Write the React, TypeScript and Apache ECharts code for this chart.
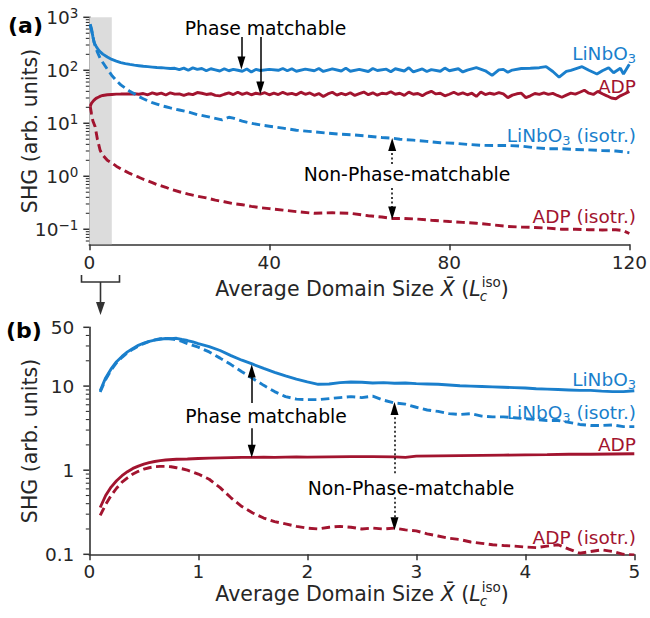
import React, { useEffect, useRef } from 'react';
import * as echarts from 'echarts';

const BLUE = '#1a7fcc';
const RED = '#a2142f';
const AXIS = '#333333';
const TEXT = '#262626';
const FONT = '"DejaVu Sans", sans-serif';

// ---------- Panel (a): x = average domain size, y = SHG ----------
const topLiNbO3: [number, number][] = [
  [0.2, 740], [0.5, 600], [0.8, 430], [1.1, 330], [1.5, 285], [2, 245], [2.5, 220], [3, 202], [4, 178], [5, 160],
  [6, 149], [7, 140], [8, 134], [9, 129], [10, 125], [11, 122], [12, 119], [13, 117], [14, 115], [15, 113],
  [16, 112], [17, 110], [18, 108], [19, 109], [20, 103], [21, 110], [22, 100], [23, 111], [24, 104], [25, 108],
  [26, 98], [27, 107], [28, 102], [29, 97], [30, 107], [31, 98], [32, 104], [33, 100], [34, 96], [35, 106],
  [36, 93], [37, 104], [38, 99], [40, 104], [42, 100], [43, 108], [44, 98], [45, 107], [46, 96], [48, 105],
  [50, 98], [51, 108], [52, 95], [54, 106], [56, 97], [57, 110], [58, 96], [60, 104], [62, 95], [63, 108],
  [64, 99], [66, 105], [67, 94], [68, 107], [70, 97], [71, 112], [72, 93], [74, 106], [75, 95], [76, 103],
  [78, 96], [79, 110], [80, 98], [82, 107], [83, 93], [84, 101], [86, 112], [88, 98], [89.5, 80], [91, 102],
  [92, 104], [93, 92], [94, 101], [96, 108], [98, 109], [100, 112], [101.5, 117], [103, 95], [104.4, 74], [106, 95],
  [107, 100], [108.5, 110], [109.5, 117], [111, 100], [112.8, 85], [114, 98], [115.4, 112], [116.5, 90], [118, 109], [118.7, 85],
  [120, 130],
];
const topADP: [number, number][] = [
  [0.2, 21], [0.5, 24], [1, 27], [1.5, 29.5], [2, 31], [2.5, 32.5], [3, 33.5], [4, 34.5], [5, 35], [6, 35.5],
  [7, 35.6], [8, 35.8], [10, 36], [11, 35.3], [12, 36.4], [13, 34.5], [14, 37.4], [15, 35.3], [16, 37.1], [17, 34.2],
  [18, 37.6], [19, 35.5], [20, 35.8], [21, 33.7], [22, 36], [23, 34.8], [24, 38], [25, 36.9], [26, 35], [27, 36.1],
  [28, 33.7], [29, 32.9], [30, 35.3], [31, 37.4], [32, 34.8], [33, 38.5], [34, 35.2], [35, 37.6], [36, 34.5], [37, 36.9],
  [38, 35.5], [39, 37.7], [40, 34.5], [41, 37.1], [42, 34.8], [43, 38.4], [44, 35.3], [45, 36.6], [46, 34.4], [47, 38.7],
  [48, 35.2], [49, 37.4], [50, 33.7], [51, 36.4], [52, 32.1], [53, 35.8], [54, 38.5], [55, 34], [56, 36.6], [57, 34.5],
  [58, 37.7], [59, 33.6], [60, 36.1], [61, 38.8], [62, 34.7], [63, 37.6], [64, 33.9], [65, 36.9], [66, 35.8], [67, 39.3],
  [68, 35.3], [69, 36.8], [70, 33.7], [71, 38.7], [72, 35.3], [73, 36.4], [74, 33.2], [75, 37.2], [76, 40.1], [77, 35.8],
  [78, 36.9], [79, 32.9], [80, 35.3], [81, 38.5], [82, 35], [83, 37.4], [84, 34.5], [85, 36.9], [86, 32.1], [87, 39],
  [88, 34.8], [89, 36.9], [90, 35.3], [91, 38], [92, 35.8], [93, 30.5], [94, 34], [95, 36], [96, 37], [97, 30.5],
  [98, 33], [99, 36.5], [100, 35.2], [101, 37.4], [102, 35], [103, 36.7], [104, 33.5], [105, 31], [106, 34], [107, 37],
  [108, 35.6], [109, 38.5], [110, 42], [111, 37], [112, 35], [113, 40], [114, 36], [115, 33], [116, 30], [117, 29],
  [118, 33], [119, 36], [120, 40],
];
const topLiNbO3Iso: [number, number][] = [
  [0.2, 720], [0.6, 520], [1, 360], [1.3, 290], [1.8, 220], [2.4, 170], [3, 140], [4, 105], [5, 80], [6, 64],
  [7, 53], [8, 46], [9, 40], [10, 36], [11, 32], [12, 29], [13, 26.5], [14, 24.5], [15, 23], [16, 21.5],
  [17, 20.5], [18, 19.5], [19, 18.6], [20, 17.8], [22, 16.3], [24, 14.6], [26, 13.5], [28, 12.4], [29.5, 11.6], [31, 13],
  [32, 12.5], [34, 11], [36, 10], [38, 9.3], [40, 8.8], [43, 8.1], [46, 7.4], [50, 6.9], [53, 6.5], [56, 6.2],
  [59, 6.0], [62, 5.7], [65, 5.4], [67.3, 5.25], [69, 5.0], [72, 4.8], [75, 4.55], [78, 4.3], [81, 4.2], [84, 4.0],
  [87, 3.85], [90, 3.8], [93, 3.8], [96, 3.7], [99, 3.45], [102, 3.3], [105, 3.3], [108, 3.2], [111, 3.15], [114, 3.05],
  [117, 3.0], [120, 2.8],
];
const topADPIso: [number, number][] = [
  [0.2, 21], [0.5, 15], [0.8, 11], [1.3, 8.6], [1.8, 5], [2.4, 3.1], [3, 2.5], [4, 2.0], [5, 1.78], [6, 1.55],
  [7, 1.38], [8, 1.25], [9, 1.13], [10, 1.04], [11, 0.96], [12, 0.88], [13, 0.82], [14, 0.76], [15, 0.7], [16, 0.66],
  [17, 0.62], [18, 0.57], [20, 0.51], [22, 0.46], [24, 0.42], [26, 0.39], [28, 0.355], [30, 0.33], [32, 0.305], [34, 0.29],
  [36, 0.27], [38, 0.255], [40, 0.245], [43, 0.23], [46, 0.215], [50, 0.2], [54, 0.205], [58, 0.2], [62, 0.18], [65, 0.17],
  [67.3, 0.16], [70, 0.16], [73, 0.155], [76, 0.148], [80, 0.14], [83, 0.135], [86, 0.13], [90, 0.12], [93, 0.113], [96, 0.11],
  [99, 0.108], [102, 0.105], [105, 0.1], [108, 0.1], [111, 0.098], [114, 0.097], [117, 0.098], [118.5, 0.095], [120, 0.083],
];

// ---------- Panel (b) ----------
const botLiNbO3: [number, number][] = [
  [0.1, 8.8], [0.15, 12.5], [0.2, 16], [0.25, 19.5], [0.3, 22.5], [0.35, 25.5], [0.4, 28], [0.45, 30.5], [0.5, 32.5], [0.55, 34],
  [0.6, 35.2], [0.65, 36], [0.7, 36.8], [0.75, 36.5], [0.8, 37], [0.85, 35.8], [0.9, 34.8], [0.95, 33.5], [1.0, 32], [1.1, 29.5],
  [1.2, 26.5], [1.3, 23], [1.4, 20.3], [1.5, 18.2], [1.6, 16.2], [1.7, 14.6], [1.8, 13.2], [1.9, 12.1], [2.0, 11.2], [2.1, 10.5],
  [2.2, 10.6], [2.3, 11.0], [2.4, 11.2], [2.5, 11.1], [2.6, 10.9], [2.7, 11.0], [2.8, 10.8], [2.9, 10.9], [3.0, 10.7], [3.1, 10.6],
  [3.2, 10.5], [3.3, 10.3], [3.4, 10.1], [3.5, 10.0], [3.6, 9.9], [3.7, 9.8], [3.8, 9.7], [3.9, 9.6], [4.0, 9.5], [4.1, 9.3],
  [4.2, 9.2], [4.3, 9.1], [4.4, 9.0], [4.5, 8.9], [4.6, 8.9], [4.7, 8.7], [4.8, 8.6], [4.9, 8.6], [5.0, 8.8],
];
const botLiNbO3Iso: [number, number][] = [
  [0.1, 8.5], [0.15, 12], [0.2, 15.5], [0.25, 19], [0.3, 22], [0.35, 25], [0.4, 27.5], [0.45, 30], [0.5, 32], [0.55, 34],
  [0.6, 35.5], [0.65, 36.5], [0.7, 37], [0.75, 36.5], [0.8, 35.5], [0.85, 34], [0.9, 32], [0.95, 30.5], [1.0, 29], [1.1, 25.5],
  [1.2, 21.5], [1.3, 18], [1.4, 14.8], [1.5, 12.3], [1.6, 10.2], [1.7, 8.6], [1.8, 7.5], [1.9, 7.0], [2.0, 6.9], [2.1, 6.9],
  [2.2, 7.1], [2.3, 7.3], [2.4, 7.5], [2.5, 7.3], [2.6, 7.6], [2.7, 6.8], [2.8, 6.3], [2.9, 6.1], [3.0, 5.6], [3.1, 5.2],
  [3.2, 5.0], [3.3, 4.7], [3.4, 4.6], [3.5, 4.7], [3.6, 4.4], [3.7, 4.3], [3.8, 4.3], [3.9, 4.2], [4.0, 4.1], [4.1, 4.0],
  [4.2, 3.9], [4.3, 3.9], [4.4, 3.7], [4.5, 3.5], [4.6, 3.4], [4.7, 3.4], [4.8, 3.45], [4.9, 3.3], [5.0, 3.3],
];
const botADP: [number, number][] = [
  [0.1, 0.36], [0.15, 0.5], [0.2, 0.63], [0.25, 0.75], [0.3, 0.86], [0.35, 0.96], [0.4, 1.05], [0.45, 1.12], [0.5, 1.18], [0.55, 1.23],
  [0.6, 1.27], [0.65, 1.3], [0.7, 1.32], [0.8, 1.35], [0.9, 1.36], [1.0, 1.38], [1.1, 1.39], [1.2, 1.4], [1.3, 1.41], [1.4, 1.42],
  [1.5, 1.42], [1.6, 1.43], [1.7, 1.42], [1.8, 1.43], [1.9, 1.44], [2.0, 1.43], [2.2, 1.44], [2.4, 1.45], [2.6, 1.45], [2.8, 1.44],
  [2.9, 1.42], [3.0, 1.47], [3.2, 1.48], [3.4, 1.49], [3.6, 1.5], [3.8, 1.51], [4.0, 1.52], [4.2, 1.53], [4.4, 1.55], [4.6, 1.55],
  [4.8, 1.56], [5.0, 1.57],
];
const botADPIso: [number, number][] = [
  [0.1, 0.29], [0.15, 0.39], [0.2, 0.5], [0.25, 0.61], [0.3, 0.72], [0.35, 0.81], [0.4, 0.9], [0.45, 0.97], [0.5, 1.03], [0.55, 1.07],
  [0.6, 1.1], [0.65, 1.11], [0.7, 1.11], [0.75, 1.1], [0.8, 1.07], [0.85, 1.04], [0.9, 1.0], [0.95, 0.95], [1.0, 0.9], [1.1, 0.78],
  [1.2, 0.62], [1.3, 0.47], [1.4, 0.37], [1.5, 0.31], [1.6, 0.27], [1.7, 0.245], [1.8, 0.23], [1.9, 0.215], [2.0, 0.205], [2.1, 0.2],
  [2.2, 0.21], [2.3, 0.215], [2.4, 0.21], [2.5, 0.2], [2.6, 0.205], [2.7, 0.2], [2.8, 0.205], [2.9, 0.195], [3.0, 0.19], [3.1, 0.175],
  [3.2, 0.165], [3.3, 0.155], [3.4, 0.15], [3.5, 0.14], [3.6, 0.135], [3.7, 0.13], [3.8, 0.127], [3.9, 0.125], [4.0, 0.122], [4.1, 0.12],
  [4.2, 0.125], [4.3, 0.13], [4.4, 0.115], [4.5, 0.103], [4.6, 0.108], [4.7, 0.113], [4.8, 0.108], [4.9, 0.1], [5.0, 0.098],
];

// axes
const topXRange = [0, 120];
const topXInterval = 40;
const topYRange = [0.052, 1000];
const topYMajor = [0.1, 1, 10, 100, 1000];
const topYMinor = [0.06, 0.07, 0.08, 0.09, 0.2, 0.3, 0.4, 0.5, 0.6, 0.7, 0.8, 0.9, 2, 3, 4, 5, 6, 7, 8, 9,
  20, 30, 40, 50, 60, 70, 80, 90, 200, 300, 400, 500, 600, 700, 800, 900];
const shadeRange = [0, 5];

const botXRange = [0, 5];
const botXInterval = 1;
const botYRange = [0.1, 50];
const botYMajor = [0.1, 1, 10, 50];
const botYMinor = [0.2, 0.3, 0.4, 0.5, 0.6, 0.7, 0.8, 0.9, 2, 3, 4, 5, 6, 7, 8, 9, 20, 30, 40];

// annotation arrows (x, from, to) in data units
const topSolidArrows = [[33.8, 425, 137], [38, 425, 46.4]];
const topDottedArrows = [[67.3, 1.71, 3.98], [67.3, 0.6, 0.203]];
const botSolidArrows = [[1.49, 6.28, 15.1], [1.49, 3.16, 1.68]];
const botDottedArrows = [[2.8, 0.92, 5.4], [2.8, 0.477, 0.231]];

const LW = 2.9;
const DASH = [8.5, 4.5];

function arrowData(solid: number[][], dotted: number[][]) {
  const mk = (a: number[], type: any) => {
    const ls = { color: '#000', width: 1.5, type };
    return [
      { coord: [a[0], a[1]], lineStyle: ls, itemStyle: { color: '#000' } },
      { coord: [a[0], a[2]], lineStyle: ls, itemStyle: { color: '#000' } },
    ];
  };
  return [...solid.map((a) => mk(a, 'solid')), ...dotted.map((a) => mk(a, [2, 2.5]))];
}

function tickSeries(xi: number, xMin: number, majors: number[], minors: number[]) {
  return {
    type: 'custom',
    xAxisIndex: xi,
    yAxisIndex: xi,
    clip: false,
    silent: true,
    z: 6,
    encode: { x: 0, y: 1 },
    data: [...majors.map((v) => [xMin, v, 6, 1.5]), ...minors.map((v) => [xMin, v, 3.5, 1.1])],
    renderItem: (_p: any, api: any) => {
      const p = api.coord([api.value(0), api.value(1)]);
      const len = api.value(2);
      return {
        type: 'line',
        shape: { x1: p[0] - len, y1: p[1], x2: p[0], y2: p[1] },
        style: { stroke: AXIS, lineWidth: api.value(3) },
      };
    },
  };
}

function lineSeries(idx: number, data: [number, number][], color: string, dashed: boolean, extra: any = {}) {
  return {
    type: 'line',
    xAxisIndex: idx,
    yAxisIndex: idx,
    data,
    showSymbol: false,
    symbol: 'none',
    z: 3,
    lineStyle: { color, width: LW, type: dashed ? DASH : 'solid', cap: 'butt' },
    ...extra,
  };
}

let measureCtx: CanvasRenderingContext2D | null = null;
function measure(text: string, size: number, italic = false) {
  if (!measureCtx) measureCtx = document.createElement('canvas').getContext('2d');
  measureCtx!.font = `${italic ? 'italic ' : ''}${size}px "DejaVu Sans"`;
  return measureCtx!.measureText(text).width;
}

function xTitle(cx: number, cy: number) {
  const S = 20.5;
  const s = 13.5;
  const parts = [
    { t: 'Average Domain Size ', it: false },
    { t: 'X\u0304', it: true },
    { t: ' (', it: false },
    { t: 'L', it: true },
  ];
  const widths = parts.map((p) => measure(p.t, S, p.it));
  const wIso = measure('iso', s);
  const wC = measure('c', s, true);
  const wStack = Math.max(wIso, wC) + 1;
  const wClose = measure(')', S);
  const total = widths.reduce((a, b) => a + b, 0) + wStack + wClose;
  let x = cx - total / 2;
  const els: any[] = [];
  parts.forEach((p, i) => {
    els.push({
      type: 'text', x, y: cy, silent: true,
      style: { text: p.t, font: `${p.it ? 'italic ' : ''}${S}px ${FONT}`, fill: TEXT, align: 'left', verticalAlign: 'middle' },
    });
    x += widths[i];
  });
  els.push({ type: 'text', x: x + 1, y: cy - 7, silent: true,
    style: { text: 'iso', font: `${s}px ${FONT}`, fill: TEXT, align: 'left', verticalAlign: 'middle' } });
  els.push({ type: 'text', x: x - 1, y: cy + 7, silent: true,
    style: { text: 'c', font: `italic ${s}px ${FONT}`, fill: TEXT, align: 'left', verticalAlign: 'middle' } });
  x += wStack;
  els.push({ type: 'text', x, y: cy, silent: true,
    style: { text: ')', font: `${S}px ${FONT}`, fill: TEXT, align: 'left', verticalAlign: 'middle' } });
  return els;
}

function plainText(text: string, x: number, y: number, opts: any = {}) {
  return {
    type: 'text', x, y, silent: true,
    style: { text, font: `${opts.weight || 'normal'} ${opts.size || 18.8}px ${FONT}`, fill: opts.color || '#000',
      align: opts.align || 'center', verticalAlign: 'middle' },
  };
}

function seriesLabel(text: string, x: number, y: number, color: string) {
  return {
    type: 'text', x, y, silent: true,
    style: {
      text, fill: color, align: 'right', verticalAlign: 'middle',
      fontSize: 18.5, fontFamily: FONT, lineHeight: 24,
      rich: { sub: { fontSize: 13, fontFamily: FONT, lineHeight: 12, verticalAlign: 'bottom', fill: color, color } },
    },
  };
}

function yTitle(x: number, y: number) {
  return {
    type: 'text', x, y, rotation: Math.PI / 2, silent: true,
    style: { text: 'SHG (arb. units)', font: `20.5px ${FONT}`, fill: TEXT, align: 'center', verticalAlign: 'middle' },
  };
}

const axisLineStyle = { color: AXIS, width: 1.6 };

function buildOption() {
  const supExp = (v: number) => {
    const e = Math.round(Math.log10(v));
    return `{b|10}{s|${e < 0 ? '\u2212' + Math.abs(e) : e}}`;
  };
  return {
    animation: false,
    grid: [
      { left: 89.3, top: 17.3, width: 545, height: 227 },
      { left: 89.3, top: 327.3, width: 545, height: 227 },
    ],
    xAxis: [
      {
        type: 'value', gridIndex: 0, min: topXRange[0], max: topXRange[1], interval: topXInterval,
        axisLine: { onZero: false, lineStyle: axisLineStyle },
        axisTick: { length: 6, lineStyle: { color: AXIS, width: 1.5 } },
        axisLabel: { fontSize: 18.5, fontFamily: FONT, color: TEXT, margin: 9 },
        splitLine: { show: false },
      },
      {
        type: 'value', gridIndex: 1, min: botXRange[0], max: botXRange[1], interval: botXInterval,
        axisLine: { onZero: false, lineStyle: axisLineStyle },
        axisTick: { length: 6, lineStyle: { color: AXIS, width: 1.5 } },
        axisLabel: { fontSize: 18.5, fontFamily: FONT, color: TEXT, margin: 8 },
        splitLine: { show: false },
      },
    ],
    yAxis: [
      {
        type: 'log', logBase: 10, gridIndex: 0, min: topYRange[0], max: topYRange[1],
        axisLine: { show: true, lineStyle: axisLineStyle },
        axisTick: { show: false },
        splitLine: { show: false },
        axisLabel: {
          showMinLabel: false, margin: 11, color: TEXT, formatter: supExp,
          rich: {
            b: { fontSize: 18.5, fontFamily: FONT, color: TEXT, lineHeight: 22 },
            s: { fontSize: 13.5, fontFamily: FONT, color: TEXT, lineHeight: 14, verticalAlign: 'top' },
          },
        },
      },
      {
        type: 'log', logBase: 10, gridIndex: 1, min: botYRange[0], max: botYRange[1],
        axisLine: { show: true, lineStyle: axisLineStyle },
        axisTick: { show: false },
        splitLine: { show: false },
        axisLabel: {
          margin: 15, fontSize: 18.5, fontFamily: FONT, color: TEXT,
          formatter: (v: number) => (v >= 1 ? String(Math.round(v)) : String(Number(v.toPrecision(2)))),
        },
      },
    ],
    series: [
      lineSeries(0, topLiNbO3, BLUE, false, {
        markArea: {
          silent: true, itemStyle: { color: '#dcdcdc' },
          data: [[{ xAxis: shadeRange[0] }, { xAxis: shadeRange[1] }]],
        },
        markLine: {
          silent: true, symbol: ['none', 'triangle'], symbolSize: [8, 13], label: { show: false },
          data: arrowData(topSolidArrows, topDottedArrows),
        },
      }),
      lineSeries(0, topADP, RED, false),
      lineSeries(0, topLiNbO3Iso, BLUE, true),
      lineSeries(0, topADPIso, RED, true),
      lineSeries(1, botLiNbO3, BLUE, false, {
        markLine: {
          silent: true, symbol: ['none', 'triangle'], symbolSize: [8, 13], label: { show: false },
          data: arrowData(botSolidArrows, botDottedArrows),
        },
      }),
      lineSeries(1, botADP, RED, false),
      lineSeries(1, botLiNbO3Iso, BLUE, true),
      lineSeries(1, botADPIso, RED, true),
      tickSeries(0, topXRange[0], topYMajor, topYMinor),
      tickSeries(1, botXRange[0], botYMajor, botYMinor),
    ],
    graphic: [
      plainText('(a)', 8, 25, { weight: 'bold', size: 22, align: 'left' }),
      plainText('(b)', 6, 330, { weight: 'bold', size: 22, align: 'left' }),
      yTitle(30, 131),
      yTitle(30, 441),
      ...xTitle(362, 289),
      ...xTitle(362, 594),
      plainText('Phase matchable', 265.5, 28),
      plainText('Non-Phase-matchable', 407, 174),
      plainText('Phase matchable', 266, 416),
      plainText('Non-Phase-matchable', 411, 488),
      seriesLabel('LiNbO{sub|3}', 636, 53, BLUE),
      seriesLabel('ADP', 636, 86, RED),
      seriesLabel('LiNbO{sub|3} (isotr.)', 636, 135, BLUE),
      seriesLabel('ADP (isotr.)', 636, 216, RED),
      seriesLabel('LiNbO{sub|3}', 636, 379, BLUE),
      seriesLabel('LiNbO{sub|3} (isotr.)', 636, 412, BLUE),
      seriesLabel('ADP', 636, 444, RED),
      seriesLabel('ADP (isotr.)', 636, 537, RED),
      {
        type: 'polyline', silent: true,
        shape: { points: [[81.5, 275], [81.5, 282], [119.5, 282], [119.5, 275]] },
        style: { stroke: AXIS, lineWidth: 1.6, fill: 'none' },
      },
      { type: 'line', silent: true, shape: { x1: 100.5, y1: 282, x2: 100.5, y2: 304 }, style: { stroke: AXIS, lineWidth: 1.6 } },
      { type: 'polygon', silent: true, shape: { points: [[96, 302], [105, 302], [100.5, 315]] }, style: { fill: AXIS } },
    ],
  };
}

export default function App() {
  const ref = useRef<HTMLDivElement>(null);
  useEffect(() => {
    const chart = echarts.init(ref.current!, null, { renderer: 'svg' });
    chart.setOption(buildOption() as any);
    return () => chart.dispose();
  }, []);
  return <div ref={ref} style={{ position: 'fixed', left: 0, top: 0, width: 650, height: 618, background: '#fff' }} />;
}
